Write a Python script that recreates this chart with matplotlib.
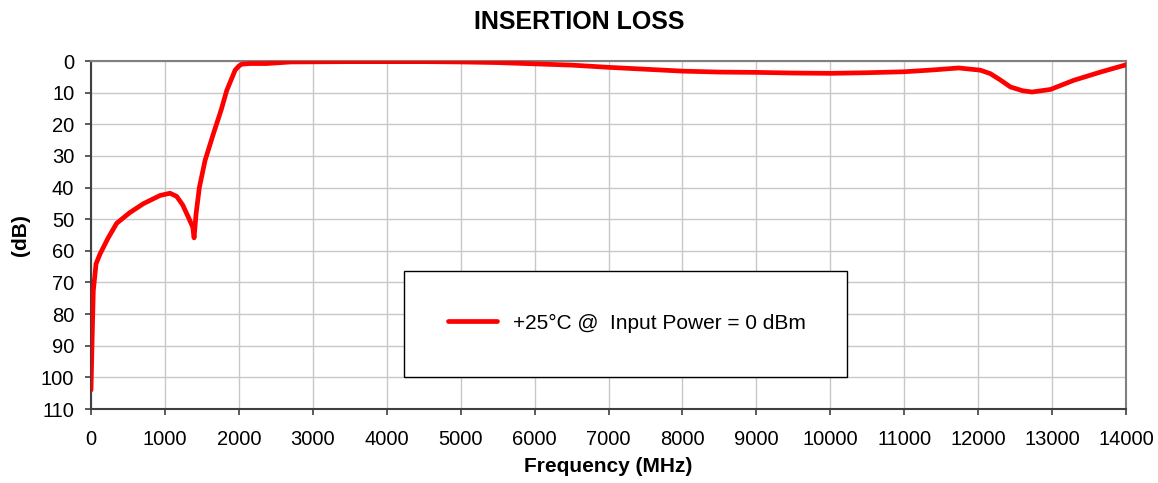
import numpy as np
import matplotlib.pyplot as plt
from matplotlib.patches import Rectangle

plt.rcParams['font.family'] = ['Liberation Sans', 'DejaVu Sans']

# Insertion loss readings (MHz, dB)
freq = [0, 15, 31, 68, 122, 230, 347, 520, 708, 934, 1069, 1159, 1240, 1317, 1376,
        1394, 1421, 1466, 1543, 1655, 1760, 1836, 1949, 2000, 2039, 2152, 2377, 2700,
        3500, 4500, 5000, 5500, 6000, 6500, 7000, 7500, 8000, 8500, 9000, 9500,
        10000, 10500, 11000, 11400, 11736, 12030, 12165, 12300, 12436, 12600, 12729,
        12977, 13293, 13654, 14000]
loss = [104, 88, 72.6, 64.1, 61, 56, 51.3, 48, 45.1, 42.5, 41.8, 42.8, 45.5, 49.4, 52.5,
        55.9, 48.3, 39.9, 31.4, 23, 15.5, 9.3, 2.9, 1.6, 1.0, 0.8, 0.8, 0.3,
        0.2, 0.2, 0.3, 0.5, 0.9, 1.3, 2.0, 2.6, 3.2, 3.5, 3.6, 3.8,
        3.9, 3.7, 3.4, 2.8, 2.2, 2.9, 4.0, 6.0, 8.2, 9.4, 9.8,
        9.0, 6.1, 3.5, 1.2]

fig = plt.figure(figsize=(11.58, 4.83), dpi=100)
ax = fig.add_axes([0.0786, 0.1532, 0.8938, 0.7205])

ax.plot(freq, loss, color='#ff0000', lw=3.4, solid_capstyle='round',
        label='+25\u00b0C @  Input Power = 0 dBm', zorder=3)

ax.set_xlim(0, 14000)
ax.set_ylim(110, 0)
ax.set_xticks(np.arange(0, 14001, 1000))
ax.set_yticks(np.arange(0, 111, 10))
ax.tick_params(labelsize=14.5, direction='out', length=4, color='#404040', width=1.2)
ax.tick_params(axis='x', pad=11)
ax.tick_params(axis='y', pad=8)
ax.grid(True, color='#c8c8c8', lw=1)
ax.set_axisbelow(True)

for s in ['left', 'bottom']:
    ax.spines[s].set_color('#404040')
    ax.spines[s].set_linewidth(1.5)
for s in ['top', 'right']:
    ax.spines[s].set_color('#808080')
    ax.spines[s].set_linewidth(1.5)

fig.text(0.5, 0.955, 'INSERTION LOSS', fontsize=18, fontweight='bold',
         ha='center', va='center')
ax.set_xlabel('Frequency (MHz)', fontsize=15, fontweight='bold', labelpad=6)
ax.set_ylabel('(dB)', fontsize=15, fontweight='bold', labelpad=8)

# legend box
ax.add_patch(Rectangle((0.3024, 0.092), 0.428, 0.3046, transform=ax.transAxes,
                       facecolor='white', edgecolor='black', lw=1, zorder=4))
leg = ax.legend(loc='center', bbox_to_anchor=(0.518, 0.247), frameon=False,
                fontsize=15, handlelength=2.35, handletextpad=0.77)
leg.set_zorder(5)

plt.savefig('out.png', dpi=100)
